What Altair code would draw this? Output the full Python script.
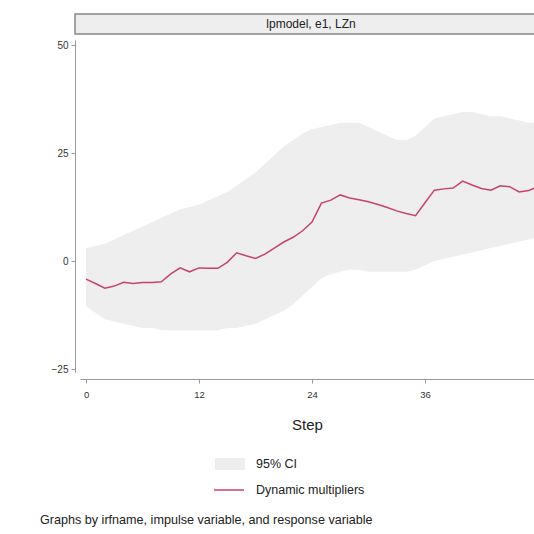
import altair as alt
import pandas as pd

# Impulse-response table: step, point estimate and 95% band
steps = list(range(49))
irf = [-4.2, -5.2, -6.3, -5.8, -4.9, -5.2, -5.0, -5.0, -4.8, -3.0,
       -1.6, -2.5, -1.6, -1.7, -1.7, -0.3, 1.9, 1.2, 0.6, 1.6,
       3.0, 4.4, 5.5, 7.0, 9.0, 13.4, 14.1, 15.3, 14.6, 14.2,
       13.7, 13.1, 12.4, 11.6, 11.0, 10.5, 13.5, 16.4, 16.7, 16.9,
       18.5, 17.6, 16.8, 16.4, 17.4, 17.2, 16.0, 16.3, 17.2]
upper = [3.0, 3.5, 4.0, 5.0, 6.0, 7.0, 8.0, 9.0, 10.0, 11.0,
         12.0, 12.5, 13.0, 14.0, 15.0, 16.0, 17.5, 19.0, 20.5, 22.5,
         24.5, 26.5, 28.0, 29.5, 30.5, 31.0, 31.5, 32.0, 32.0, 32.0,
         31.0, 30.0, 29.0, 28.0, 28.0, 29.0, 31.0, 33.0, 33.5, 34.0,
         34.5, 34.5, 34.0, 33.5, 33.5, 33.0, 32.5, 32.0, 32.0]
lower = [-10.5, -12.0, -13.5, -14.0, -14.5, -15.0, -15.5, -15.5, -16.0, -16.0,
         -16.0, -16.0, -16.0, -16.0, -16.0, -15.5, -15.5, -15.0, -14.5, -13.5,
         -12.5, -11.5, -10.0, -8.0, -6.0, -4.0, -3.0, -2.5, -2.0, -2.0,
         -2.5, -2.5, -2.5, -2.5, -2.5, -2.0, -1.0, 0.0, 0.5, 1.0,
         1.5, 2.0, 2.5, 3.0, 3.5, 4.0, 4.5, 5.0, 5.5]

x_ticks = [0, 12, 24, 36, 48]
y_ticks = [-25, 0, 25, 50]

panel_title = "lpmodel, e1, LZn"
note_text = "Graphs by irfname, impulse variable, and response variable"
ci_label = "95% CI"
line_label = "Dynamic multipliers"

df = pd.DataFrame({"step": steps, "irf": irf, "lo": lower, "hi": upper})
df["ci"] = ci_label
df["series"] = line_label

FONT = "Liberation Sans"
W, H = 454, 332
LINE_COLOR = "#c8426a"
BAND_COLOR = "#eeeeee"

x_scale = alt.Scale(domain=[-0.64, 47.58], nice=False, zero=False)
y_scale = alt.Scale(domain=[-25.69, 51.16], nice=False, zero=False)

x_axis = alt.Axis(values=x_ticks, title="Step", offset=7, tickSize=4,
                  labelFontSize=9.5, labelPadding=6, labelColor="#333",
                  domainColor="#999", tickColor="#999", grid=False,
                  titleFontSize=15, titleFontWeight="normal", titleColor="#222",
                  titlePadding=19, titleFont=FONT, labelFont=FONT)
y_axis = alt.Axis(values=y_ticks, title=None, offset=5, tickSize=4,
                  labelFontSize=10, labelPadding=3, labelColor="#333",
                  domainColor="#999", tickColor="#999", grid=False,
                  labelFont=FONT)

band = alt.Chart(df).mark_area(clip=True, opacity=1).encode(
    x=alt.X("step:Q", scale=x_scale, axis=x_axis),
    y=alt.Y("lo:Q", scale=y_scale, axis=y_axis),
    y2="hi:Q",
    fill=alt.Fill("ci:N", scale=alt.Scale(domain=[ci_label], range=[BAND_COLOR]),
                  legend=alt.Legend(orient="none", legendX=138, legendY=412,
                                    title=None, symbolType="M-1.25,-0.5H1.25V0.5H-1.25Z",
                                    symbolSize=576, symbolStrokeWidth=0,
                                    symbolFillColor="#e8e6e8", symbolOpacity=1,
                                    labelFontSize=12.5, labelFont=FONT,
                                    labelColor="#222", labelOffset=14)),
)

line = alt.Chart(df).mark_line(clip=True, strokeWidth=1.5).encode(
    x=alt.X("step:Q", scale=x_scale),
    y=alt.Y("irf:Q", scale=y_scale),
    stroke=alt.Stroke("series:N",
                      scale=alt.Scale(domain=[line_label], range=[LINE_COLOR]),
                      legend=alt.Legend(orient="none", legendX=133, legendY=434,
                                        title=None, symbolType="stroke",
                                        symbolSize=900, symbolStrokeWidth=1.5,
                                        labelFontSize=12.5, labelFont=FONT,
                                        labelColor="#222", labelOffset=11)),
)

# panel header strip above the plot region
strip_df = pd.DataFrame({"label": [panel_title]})
strip = alt.Chart(strip_df).mark_rect(
    fill="#eeeeee", stroke="#888888", strokeWidth=1.5, clip=False
).encode(x=alt.value(-5), x2=alt.value(W + 20), y=alt.value(-26), y2=alt.value(-6))
strip_text = alt.Chart(strip_df).mark_text(
    font=FONT, fontSize=12, color="#222", align="center", baseline="middle"
).encode(x=alt.value(231), y=alt.value(-16), text="label:N")

note_df = pd.DataFrame({"label": [note_text]})
note = alt.Chart(note_df).mark_text(
    font=FONT, fontSize=12.6, color="#222", align="left", baseline="middle"
).encode(x=alt.value(-40), y=alt.value(480), text="label:N")

chart = alt.layer(band, line, strip, strip_text, note).resolve_scale(
    fill="independent", stroke="independent"
).properties(
    width=W, height=H,
    autosize=alt.AutoSizeParams(type="none"),
    padding={"left": 80, "top": 40, "right": 0, "bottom": 162},
    background="white",
).configure_view(stroke=None)

chart.save("out.html", embed_options={"renderer": "svg", "actions": False})
